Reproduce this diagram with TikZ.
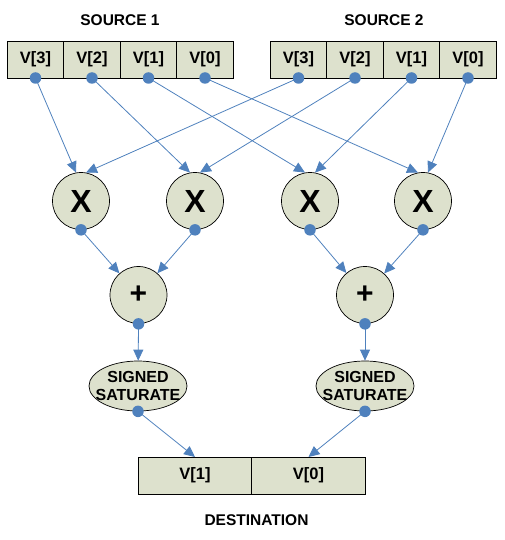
\documentclass[tikz,border=0pt]{standalone}
\usepackage{fontspec}
\setmainfont{Liberation Sans}
\usetikzlibrary{positioning,arrows.meta,shapes.geometric}
\definecolor{cellfill}{RGB}{221,225,205}
\definecolor{wireblue}{RGB}{79,129,189}

\begin{document}
\begin{tikzpicture}[
    x=1pt, y=-1pt,
    cell/.style={draw, fill=cellfill, line width=0.7pt, minimum width=56.5pt, minimum height=37pt, inner sep=0pt, outer sep=0pt, font=\fontsize{16.5}{18}\selectfont\bfseries},
    wide/.style={cell, minimum width=113.5pt},
    mul/.style={circle, draw, fill=cellfill, line width=0.7pt, minimum size=57pt, inner sep=0pt, font=\fontsize{32}{32}\selectfont\bfseries},
    add/.style={mul, font=\fontsize{30}{30}\selectfont\bfseries},
    sat/.style={ellipse, draw, fill=cellfill, line width=0.7pt, minimum width=98pt, minimum height=50pt, inner xsep=-9pt, inner ysep=0pt, align=center, font=\fontsize{16}{18.5}\selectfont\bfseries},
    tap/.style={circle, fill=wireblue, minimum size=11.5pt, inner sep=0pt},
    arr/.style={-{Triangle[length=11pt,width=10pt]}, wireblue, line width=0.8pt},
    title/.style={font=\fontsize{15.5}{18}\selectfont\bfseries}
]
\useasboundingbox (0,0) rectangle (505,540);

% Sources
\node[title] (src1) at (120,20) {SOURCE 1};
\node[title] (src2) at (384,20) {SOURCE 2};
\node[cell] (a3) at (35.5,59.5) {V[3]};
\node[cell, right=0pt of a3] (a2) {V[2]};
\node[cell, right=0pt of a2] (a1) {V[1]};
\node[cell, right=0pt of a1] (a0) {V[0]};
\node[cell] (b3) at (298.5,59.5) {V[3]};
\node[cell, right=0pt of b3] (b2) {V[2]};
\node[cell, right=0pt of b2] (b1) {V[1]};
\node[cell, right=0pt of b1] (b0) {V[0]};

% Multipliers and adders
\node[mul] (m1) at (81,201) {X};
\node[mul] (m2) at (195,201) {X};
\node[mul] (m3) at (310,201) {X};
\node[mul] (m4) at (423,201) {X};
\node[add] (p1) at (138.5,295) {+};
\node[add] (p2) at (365,295) {+};

% Saturation
\node[sat] (s1) at (138,386) {SIGNED\\SATURATE};
\node[sat] (s2) at (365,386) {SIGNED\\SATURATE};

% Destination
\node[wide] (d1) at (195,475.5) {V[1]};
\node[wide, right=0pt of d1] (d0) {V[0]};
\node[title] (dst) at (256.5,520) {DESTINATION};

% Taps
\node[tap] (a3t) at (a3.south) {};
\node[tap] (a2t) at (a2.south) {};
\node[tap] (a1t) at (a1.south) {};
\node[tap] (a0t) at (a0.south) {};
\node[tap] (b3t) at (b3.south) {};
\node[tap] (b2t) at (b2.south) {};
\node[tap] (b1t) at (b1.south) {};
\node[tap] (b0t) at (b0.south) {};
\node[tap] (m1t) at (m1.south) {};
\node[tap] (m2t) at (m2.south) {};
\node[tap] (m3t) at (m3.south) {};
\node[tap] (m4t) at (m4.south) {};
\node[tap] (p1t) at (p1.south) {};
\node[tap] (p2t) at (p2.south) {};
\node[tap] (s1t) at (s1.south) {};
\node[tap] (s2t) at (s2.south) {};

% Wires
\draw[arr] (a3t.center) -- (m1.100);
\draw[arr] (b3t.center) -- (m1.80);
\draw[arr] (a2t.center) -- (m2.100);
\draw[arr] (b2t.center) -- (m2.80);
\draw[arr] (a1t.center) -- (m3.100);
\draw[arr] (b1t.center) -- (m3.80);
\draw[arr] (a0t.center) -- (m4.100);
\draw[arr] (b0t.center) -- (m4.80);
\draw[arr] (m1t.center) -- (p1);
\draw[arr] (m2t.center) -- (p1);
\draw[arr] (m3t.center) -- (p2);
\draw[arr] (m4t.center) -- (p2);
\draw[arr] (p1t.center) -- (s1);
\draw[arr] (p2t.center) -- (s2);
\draw[arr] (s1t.center) -- (d1.north);
\draw[arr] (s2t.center) -- (d0.north);
\end{tikzpicture}
\end{document}
